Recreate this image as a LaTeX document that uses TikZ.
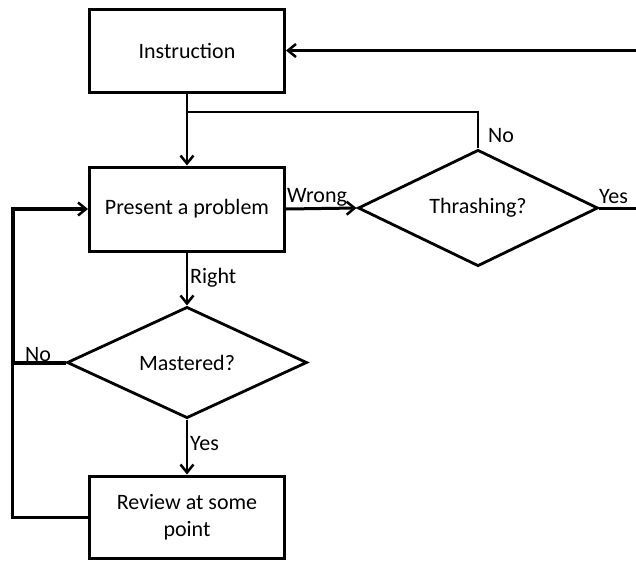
\documentclass[tikz,border=0pt]{standalone}
\usepackage{fontspec}
\setmainfont{Carlito}
\usetikzlibrary{arrows.meta,shapes.geometric}
\begin{document}
\begin{tikzpicture}[x=1pt,y=-1pt,
  font=\fontsize{22}{27}\selectfont,
  box/.style={draw, line width=3pt, minimum width=195pt, minimum height=83pt, inner sep=0pt, align=center},
  dec/.style={draw, diamond, line width=2.8pt, minimum width=240pt, inner sep=0pt},
  conn/.style={line width=2.5pt},
  tip/.style={-{Straight Barb[length=8pt,width=13pt,line width=2.5pt]}},
  lbl/.style={anchor=base west, inner sep=0pt}]
\useasboundingbox (0,0) rectangle (636,560);

\node[box] (inst) at (187,50.5) {Instruction};
\node[box, minimum height=84pt] (pres) at (187,209) {Present a problem};
\node[box, minimum height=82pt] (rev) at (187,517) {Review at some\\point};
\node[dec, minimum height=111pt] (thr) at (478,208) {Thrashing?};
\node[dec, minimum height=105pt] (mas) at (187,362.5) {Mastered?};

\coordinate (e1) at (636,50.5);
\coordinate (e2) at (636,208);
\coordinate (j) at (187,112);
\coordinate (l1) at (13,209);
\coordinate (l2) at (13,362.5);
\coordinate (l3) at (12,517);

\draw[line width=3pt,tip] (e1) -- (inst.east);
\draw[conn,tip] (inst.south) -- (pres.north);
\draw[conn] (thr.north) -- (thr.north |- j) -- (j);
\draw[line width=3pt,tip] (pres.east) -- (thr.west);
\draw[line width=3pt] (thr.east) -- (e2);
\draw[conn,tip] (pres.south) -- (mas.north);
\draw[conn,tip] (mas.south) -- (rev.north);
\draw[line width=4pt,tip] (mas.west) -- (l2) -- (l1) -- (pres.west);
\draw[line width=3pt] (rev.west) -- (l3) -- (l3 |- l2);

\node[lbl] (lwrong) at (287,202) {Wrong};
\node[lbl] (lyes1) at (599,203) {Yes};
\node[lbl] (lno1) at (488,142) {No};
\node[lbl] (lright) at (190,283) {Right};
\node[lbl] (lno2) at (25,361) {No};
\node[lbl] (lyes2) at (190,450) {Yes};
\end{tikzpicture}
\end{document}
